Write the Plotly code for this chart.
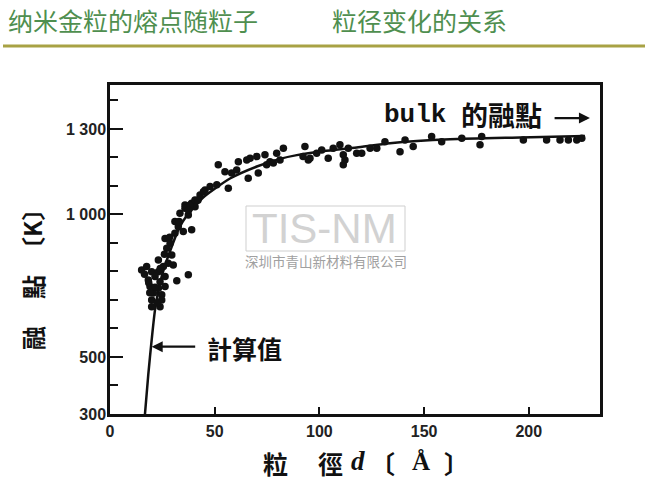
import plotly.graph_objects as go

# ---- data ----
d_points = [35.8, 39.0, 40.6, 33.4, 37.4, 31.0, 32.6, 35.0, 39.0, 31.0,
            26.3, 28.7, 27.1, 29.5, 23.1, 27.8, 30.2, 25.5, 15.1, 17.5,
            19.9, 23.1, 21.5, 26.3, 18.3, 23.9, 31.9, 37.4, 19.1, 23.1,
            26.3, 20.7, 24.7, 19.9, 24.7, 23.9, 19.9, 35.8, 38.2, 40.6,
            43.0, 45.4, 47.8, 51.0, 56.5, 51.7, 54.9, 58.1, 61.3, 60.5,
            65.3, 66.9, 66.0, 70.1, 70.8, 74.0, 74.8, 76.4, 79.6, 82.8,
            81.2, 78.0, 93.1, 94.7, 98.7, 101.1, 104.2, 106.6, 109.8, 111.4,
            111.4, 112.2, 113.8, 117.8, 120.2, 124.2, 127.4, 131.3, 138.5, 140.9,
            144.8, 153.6, 158.4, 168.0, 176.7, 177.5, 197.4, 208.5, 214.9, 218.9,
            222.9, 225.3, 92.2, 95.5, 21.5, 24.0, 26.0, 28.5, 33.0, 37.5,
            42.0, 22.5, 19.0, 44.6, 16.5, 18.5]
T_points = [1033, 1039, 1027, 1004, 998, 975, 957, 940, 946, 934,
            916, 899, 881, 858, 840, 829, 823, 817, 805, 817,
            799, 799, 782, 782, 770, 764, 767, 788, 747, 741,
            747, 724, 718, 700, 700, 676, 676, 1022, 1033, 1051,
            1068, 1086, 1098, 1104, 1092, 1174, 1150, 1145, 1185, 1156,
            1191, 1197, 1127, 1203, 1145, 1209, 1174, 1185, 1215, 1232,
            1191, 1180, 1238, 1191, 1215, 1226, 1197, 1232, 1244, 1209,
            1174, 1191, 1232, 1215, 1215, 1232, 1232, 1255, 1220, 1261,
            1238, 1273, 1255, 1267, 1244, 1273, 1261, 1261, 1261, 1261,
            1261, 1267, 1203, 1197, 745, 810, 860, 920, 975, 1015,
            1050, 690, 725, 1080, 790, 760]

d_curve = [16.7, 18.3, 19.9, 21.5, 23.9, 26.3, 29.5, 32.6, 36.6, 41.4,
           44.6, 50.0, 57.3, 70.1, 81.2, 89.2, 101.9, 117.8, 133.7, 162.4,
           195.8, 226.8]
T_curve = [300, 440, 560, 665, 760, 822, 887, 946, 995, 1035,
           1060, 1090, 1126, 1168, 1195, 1208, 1222, 1235, 1250, 1264,
           1270, 1275]

x_tickvals = [0, 50, 100, 150, 200]
y_tickvals = [300, 500, 1000, 1300]
y_ticktext = ["300", "500", "1 000", "1 300"]

title_left = "纳米金粒的熔点随粒子"
title_right = "粒径变化的关系"

# ---- layout geometry (pixels) ----
W, H = 648, 496
L, R, T, B = 110, 600, 85, 414


def px(x):
    return (x - L) / (R - L)


def py(y):
    return (B - y) / (B - T)


INK = "#111111"
CJK = "Noto Sans CJK TC"

fig = go.Figure()
fig.add_trace(go.Scatter(x=d_curve, y=T_curve, mode="lines",
                         line=dict(color=INK, width=2.5, shape="spline", smoothing=0.6),
                         hoverinfo="skip", showlegend=False))
fig.add_trace(go.Scatter(x=d_points, y=T_points, mode="markers",
                         marker=dict(color=INK, size=7.5, line=dict(width=0)),
                         showlegend=False))

tickfont = dict(family="Liberation Sans", size=16, color="#222", weight="bold")
fig.update_xaxes(range=[0, 234], showgrid=False, zeroline=False,
                 showline=True, linecolor=INK, linewidth=2.5, mirror=True,
                 ticks="inside", ticklen=7, tickwidth=2, tickcolor=INK,
                 tickvals=x_tickvals, tickfont=tickfont, ticklabelstandoff=1)
fig.update_yaxes(range=[300, 1454], showgrid=False, zeroline=False,
                 showline=True, linecolor=INK, linewidth=2.5, mirror=True,
                 ticks="inside", ticklen=13, tickwidth=2, tickcolor=INK,
                 tickvals=y_tickvals, ticktext=y_ticktext, tickfont=tickfont,
                 ticklabelstandoff=-2,
                 minor=dict(ticks="inside", ticklen=8, tickwidth=2, tickcolor=INK,
                            dtick=100, tick0=300, showgrid=False))

ann = []


def text(x, y, s, size, family=CJK, color=INK, angle=0, weight="bold", xanchor="center"):
    ann.append(dict(x=px(x), y=py(y), xref="paper", yref="paper", text=s,
                    showarrow=False, xanchor=xanchor, yanchor="middle",
                    textangle=angle,
                    font=dict(family=family, size=size, color=color, weight=weight)))


# title
text(6, 20, title_left, 25, family="Noto Sans CJK SC", color="#4f8f4f", weight="normal", xanchor="left")
text(330, 20, title_right, 25, family="Noto Sans CJK SC", color="#4f8f4f", weight="normal", xanchor="left")

# x axis title
text(275, 463, "粒", 25)
text(330, 463, "徑", 25)
text(358, 461, "<i>d</i>", 27, family="Liberation Serif")
text(382, 463, "〔", 25)
text(421, 461, "Å", 25, family="Liberation Serif")
text(456, 463, "〕", 25)

# y axis title (rotated)
text(32, 338, "融", 24, angle=-90)
text(32, 287, "點", 24, angle=-90)
text(32, 229, "〔K〕", 24, angle=-90)

# bulk label
text(382, 115, "bulk", 26, family="Liberation Mono", xanchor="left")
text(459, 115, "的融點", 27, xanchor="left")
ann.append(dict(x=229.2, y=1338, ax=211.6, ay=1338, xref="x", yref="y",
                axref="x", ayref="y", text="", showarrow=True,
                arrowhead=2, arrowsize=1, arrowwidth=2.2, arrowcolor=INK))

# calculated value label
text(205, 348, "計算值", 25, xanchor="left")
ann.append(dict(x=19.9, y=536, ax=41.4, ay=536, xref="x", yref="y",
                axref="x", ayref="y", text="", showarrow=True,
                arrowhead=2, arrowsize=1, arrowwidth=2.2, arrowcolor=INK))

# watermark
text(324, 229, "TIS-NM", 42, family="Liberation Sans", color="#d2d2d2", weight="normal")
text(326, 261, "深圳市青山新材料有限公司", 13.5, family="Noto Sans CJK SC", color="#a0a0a0", weight="normal")

shapes = [
    dict(type="line", xref="paper", yref="paper", x0=px(3), x1=px(645), y0=py(46), y1=py(46),
         line=dict(color="#a8a244", width=3)),
    dict(type="rect", xref="paper", yref="paper", x0=px(246), x1=px(405), y0=py(206), y1=py(251),
         line=dict(color="#cfcfcf", width=1)),
]

fig.update_layout(width=W, height=H, margin=dict(l=L, r=W - R, t=T, b=H - B),
                  paper_bgcolor="white", plot_bgcolor="white",
                  annotations=ann, shapes=shapes, showlegend=False)

fig.write_html("out.html", config={"displayModeBar": False},
               post_script="document.body.style.margin='0';document.body.style.overflow='hidden';")
